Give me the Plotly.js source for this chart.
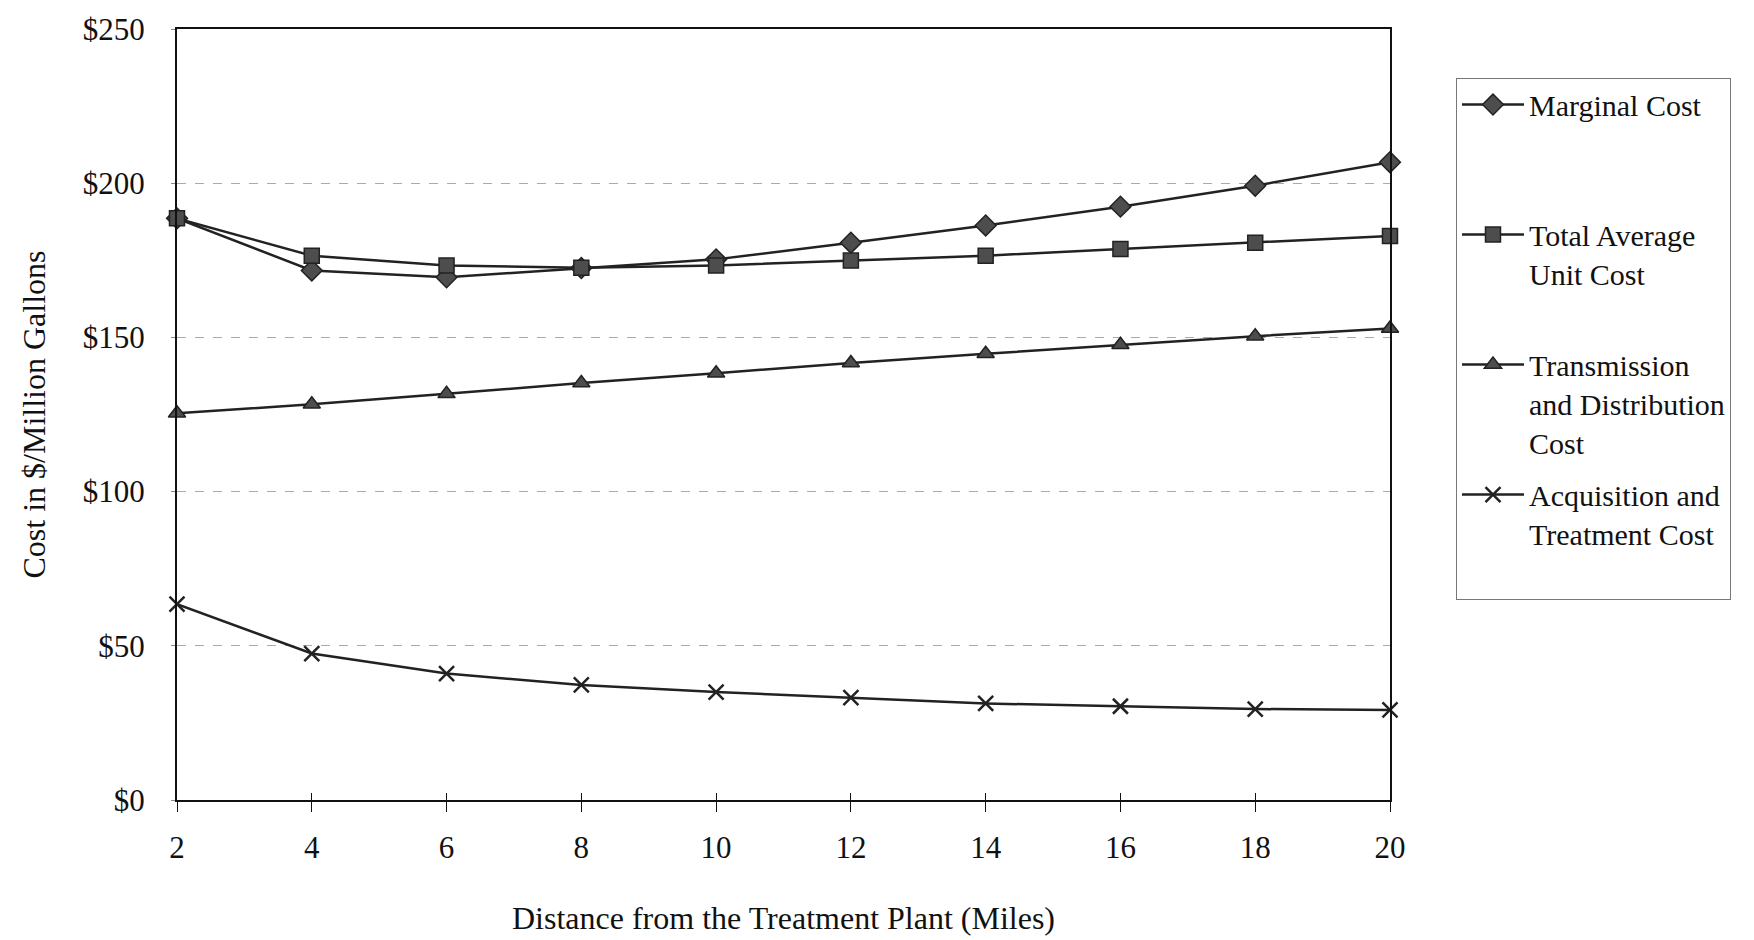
<!DOCTYPE html>
<html>
<head>
<meta charset="utf-8">
<script src="https://cdn.plot.ly/plotly-3.0.1.min.js"></script>
<style>html,body{margin:0;padding:0;background:#fff;}#chart{width:1754px;height:940px;}</style>
</head>
<body>
<div id="chart"></div>
<script>
const distance = [2, 4, 6, 8, 10, 12, 14, 16, 18, 20];
const marginalCost = [188.6, 171.7, 169.5, 172.5, 175.3, 180.7, 186.3, 192.4, 199.2, 206.8];
const totalAverageUnitCost = [188.6, 176.5, 173.3, 172.6, 173.3, 174.9, 176.5, 178.7, 180.7, 182.9];
const transmissionCost = [125.4, 128.3, 131.7, 135.2, 138.4, 141.7, 144.7, 147.6, 150.4, 152.9];
const acquisitionCost = [63.5, 47.5, 41.0, 37.3, 35.0, 33.2, 31.3, 30.4, 29.5, 29.2];
const seriesNames = [
  "Marginal Cost<br>&nbsp;<br>&nbsp;",
  "Total Average<br>Unit Cost<br>&nbsp;",
  "Transmission<br>and Distribution<br>Cost",
  "Acquisition and<br>Treatment Cost<br>&nbsp;"
];
const yTicks = [0, 50, 100, 150, 200, 250];

const serif = "Liberation Serif, Times New Roman, serif";
const lineStyle = {color: "#222", width: 2.5};

function trace(y, name, symbol, size, group) {
  const isX = symbol.indexOf("x") === 0;
  return {
    x: distance, y: y, name: name, type: "scatter", mode: "lines+markers",
    legendgroup: group, cliponaxis: false,
    line: lineStyle,
    marker: isX
      ? {symbol: symbol, size: size, color: "#222", line: {color: "#222", width: 2.5}}
      : {symbol: symbol, size: size, color: "#4d4d4d", line: {color: "#222", width: 1.5}}
  };
}

const data = [
  trace(marginalCost, seriesNames[0], "diamond", 16, "a"),
  trace(totalAverageUnitCost, seriesNames[1], "square", 15, "b"),
  trace(transmissionCost, seriesNames[2], "triangle-up", 15, "c"),
  trace(acquisitionCost, seriesNames[3], "x-thin", 15, "d")
];

const layout = {
  width: 1754, height: 940,
  margin: {l: 177, r: 364, t: 29, b: 140},
  paper_bgcolor: "#fff", plot_bgcolor: "#fff",
  font: {family: serif, color: "#111", size: 30},
  showlegend: true,
  legend: {
    x: 1.0544, y: 0.937, xanchor: "left", yanchor: "top",
    bordercolor: "#777", borderwidth: 1, bgcolor: "#fff",
    font: {family: serif, size: 30, color: "#111"},
    valign: "top", traceorder: "grouped", tracegroupgap: 10,
    itemwidth: 62
  },
  xaxis: {
    range: [2, 20], tickvals: distance, ticktext: distance.map(String),
    showline: true, linecolor: "#111", linewidth: 2, mirror: true,
    ticks: "outside", ticklen: 10, tickcolor: "#111", tickwidth: 1,
    showgrid: false, zeroline: false,
    tickfont: {family: serif, size: 31, color: "#111"},
    ticklabelstandoff: 9,
    title: {text: "Distance from the Treatment Plant (Miles)", font: {family: serif, size: 32, color: "#111"}, standoff: 42}
  },
  xaxis2: {
    overlaying: "x", matches: "x", range: [2, 20], tickvals: distance,
    showticklabels: false, ticks: "inside", ticklen: 7, tickcolor: "#111", tickwidth: 1,
    showline: false, showgrid: false, zeroline: false
  },
  yaxis: {
    range: [0, 250], tickvals: yTicks, ticktext: yTicks.map(v => "$" + v),
    showline: true, linecolor: "#111", linewidth: 2, mirror: true,
    ticks: "outside", ticklen: 4, tickcolor: "#888", tickwidth: 1,
    showgrid: true, gridcolor: "#aaa", gridwidth: 1, griddash: "dash",
    zeroline: false,
    tickfont: {family: serif, size: 31, color: "#111"},
    ticklabelstandoff: 20,
    title: {text: "Cost in $/Million Gallons", font: {family: serif, size: 32, color: "#111"}, standoff: 28}
  }
};

data.push({x: [2], y: [0], xaxis: "x2", yaxis: "y", type: "scatter", mode: "markers",
  marker: {opacity: 0}, showlegend: false, hoverinfo: "skip"});

Plotly.newPlot("chart", data, layout, {staticPlot: true});
</script>
</body>
</html>
